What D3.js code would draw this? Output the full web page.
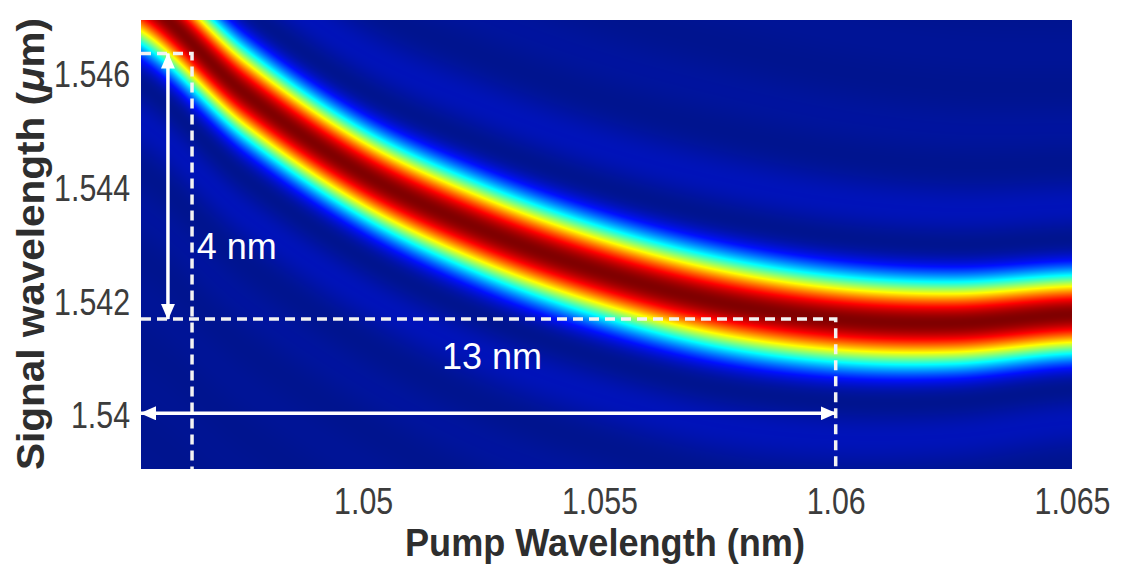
<!DOCTYPE html>
<html>
<head>
<meta charset="utf-8">
<script src="https://cdn.jsdelivr.net/npm/d3@7"></script>
<style>
  body { margin: 0; background: #fff; }
  svg { display: block; }
  .tick text { font-family: "Liberation Sans", Arial, sans-serif; font-size: 37px; fill: #3c3c3c; }
  .title { font-family: "Liberation Sans", Arial, sans-serif; font-weight: bold; font-size: 39px; fill: #2e2e2e; }
  .note { font-family: "Liberation Sans", Arial, sans-serif; font-size: 36px; fill: #fff; }
</style>
</head>
<body>
<div id="chart"></div>
<script>
var pumpNodes = [1.045, 1.0475, 1.05, 1.0525, 1.055, 1.0575, 1.06, 1.0625, 1.065];
// signal wavelength at the peak of the band
var ridgeSignal = [1.54748, 1.54568, 1.54427, 1.54329, 1.54255, 1.54201, 1.54171, 1.54164, 1.54179];
// distance to the first zero of the band (signal units)
var bandWidth = [0.00153, 0.00150, 0.00149, 0.00153, 0.00153, 0.00152, 0.00146, 0.00139, 0.00133];

var xTicks = [1.05, 1.055, 1.06, 1.065];
var yTicks = [1.54, 1.542, 1.544, 1.546];
var xDomain = [1.0453, 1.065];
var yDomain = [1.53907, 1.54697];

// annotation values
var startPump = 1.04638, endPump = 1.06;
var startSignal = 1.54638, endSignal = 1.54171;
var arrowPump = 1.04587, arrowSignal = 1.54005;
var notes = [
    {text: "4 nm", pump: 1.04648, signal: 1.54276},
    {text: "13 nm", pump: 1.05167, signal: 1.54083}
];

var width = 1124, height = 569;
var margin = {top: 20, right: 52, bottom: 100, left: 141};
var plotW = width - margin.left - margin.right;
var plotH = height - margin.top - margin.bottom;

var x = d3.scaleLinear().domain(xDomain).range([0, plotW]);
var y = d3.scaleLinear().domain(yDomain).range([plotH, 0]);

var jet = d3.scaleLinear()
    .domain([0, 0.125, 0.375, 0.625, 0.875, 1])
    .range(["#00148f", "#0010ff", "#00ffff", "#ffff00", "#ff0000", "#800000"])
    .clamp(true);

// smooth curve through the read-off nodes (Catmull-Rom)
function along(arr, p) {
    var n = arr.length;
    var step = pumpNodes[1] - pumpNodes[0];
    var t = (p - pumpNodes[0]) / step;
    var i = Math.max(0, Math.min(n - 2, Math.floor(t)));
    var f = t - i;
    var p0 = arr[Math.max(i - 1, 0)], p1 = arr[i], p2 = arr[i + 1], p3 = arr[Math.min(i + 2, n - 1)];
    return 0.5 * (2 * p1 + (-p0 + p2) * f + (2 * p0 - 5 * p1 + 4 * p2 - p3) * f * f +
        (-p0 + 3 * p1 - 3 * p2 + p3) * f * f * f);
}

// squeeze text to look like a narrow font
function narrow(sel, k) {
    sel.each(function() {
        var len = this.getComputedTextLength();
        d3.select(this).attr("textLength", len * k).attr("lengthAdjust", "spacingAndGlyphs");
    });
}

var svg = d3.select("#chart").append("svg")
    .attr("width", width)
    .attr("height", height);

var g = svg.append("g")
    .attr("transform", "translate(" + margin.left + "," + margin.top + ")");

//heatmap drawn pixel by pixel in a canvas, then put in the svg
var canvas = document.createElement("canvas");
canvas.width = plotW;
canvas.height = plotH;
var ctx = canvas.getContext("2d");
var img = ctx.createImageData(plotW, plotH);
var centers = [], widths = [];
for (var c = 0; c < plotW; c++) {
    var p = x.invert(c + 0.5);
    centers.push(along(ridgeSignal, p));
    widths.push(along(bandWidth, p));
}
for (var r = 0; r < plotH; r++) {
    var s = y.invert(r + 0.5);
    for (var c = 0; c < plotW; c++) {
        var u = Math.PI * (s - centers[c]) / widths[c];
        var v = Math.abs(u) < 1e-9 ? 1 : Math.pow(Math.sin(u) / u, 2);
        var col = d3.rgb(jet(v));
        var k = (r * plotW + c) * 4;
        img.data[k] = col.r;
        img.data[k + 1] = col.g;
        img.data[k + 2] = col.b;
        img.data[k + 3] = 255;
    }
}
ctx.putImageData(img, 0, 0);

g.append("image")
    .attr("width", plotW)
    .attr("height", plotH)
    .attr("preserveAspectRatio", "none")
    .attr("href", canvas.toDataURL());

// axes
var xAxis = g.append("g")
    .attr("transform", "translate(0," + plotH + ")")
    .call(d3.axisBottom(x).tickValues(xTicks).tickSize(0).tickPadding(19).tickFormat(d3.format("~g")));
xAxis.select(".domain").remove();
narrow(xAxis.selectAll("text"), 0.82);

var yAxis = g.append("g")
    .call(d3.axisLeft(y).tickValues(yTicks).tickSize(0).tickPadding(11).tickFormat(d3.format("~g")));
yAxis.select(".domain").remove();
narrow(yAxis.selectAll("text"), 0.82);

svg.append("text")
    .attr("class", "title")
    .attr("x", 605)
    .attr("y", 556)
    .attr("text-anchor", "middle")
    .attr("textLength", 400)
    .attr("lengthAdjust", "spacingAndGlyphs")
    .text("Pump Wavelength (nm)");

var yt = svg.append("text")
    .attr("class", "title")
    .attr("transform", "translate(44," + 244 + ") rotate(-90)")
    .attr("text-anchor", "middle")
    .attr("textLength", 452)
    .attr("lengthAdjust", "spacingAndGlyphs");
yt.append("tspan").text("Signal wavelength (");
yt.append("tspan").style("font-style", "italic").text("\u03bc");
yt.append("tspan").text("m)");

// annotations
var defs = svg.append("defs");
defs.append("marker")
    .attr("id", "head")
    .attr("viewBox", "0 0 16 14")
    .attr("refX", 15).attr("refY", 7)
    .attr("markerWidth", 16).attr("markerHeight", 14)
    .attr("markerUnits", "userSpaceOnUse")
    .attr("orient", "auto-start-reverse")
    .append("path")
    .attr("d", "M0,0L16,7L0,14Z")
    .attr("fill", "#fff");

var dashes = [
    [[xDomain[0], startSignal], [startPump, startSignal], [startPump, yDomain[0]]],
    [[xDomain[0], endSignal], [endPump, endSignal], [endPump, yDomain[0]]]
];
var line = d3.line().x(function(d) { return x(d[0]); }).y(function(d) { return y(d[1]); });

g.selectAll(".dash")
    .data(dashes)
    .enter().append("path")
    .attr("class", "dash")
    .attr("d", line)
    .attr("fill", "none")
    .attr("stroke", "#f2f2f2")
    .attr("stroke-width", 3.5)
    .attr("stroke-dasharray", "10,6");

var arrows = [
    [[arrowPump, startSignal], [arrowPump, endSignal]],
    [[xDomain[0], arrowSignal], [endPump, arrowSignal]]
];
g.selectAll(".arrow")
    .data(arrows)
    .enter().append("path")
    .attr("class", "arrow")
    .attr("d", line)
    .attr("stroke", "#fff")
    .attr("stroke-width", 3.5)
    .attr("marker-start", "url(#head)")
    .attr("marker-end", "url(#head)");

g.selectAll(".note")
    .data(notes)
    .enter().append("text")
    .attr("class", "note")
    .attr("x", function(d) { return x(d.pump); })
    .attr("y", function(d) { return y(d.signal); })
    .text(function(d) { return d.text; });
</script>
</body>
</html>
